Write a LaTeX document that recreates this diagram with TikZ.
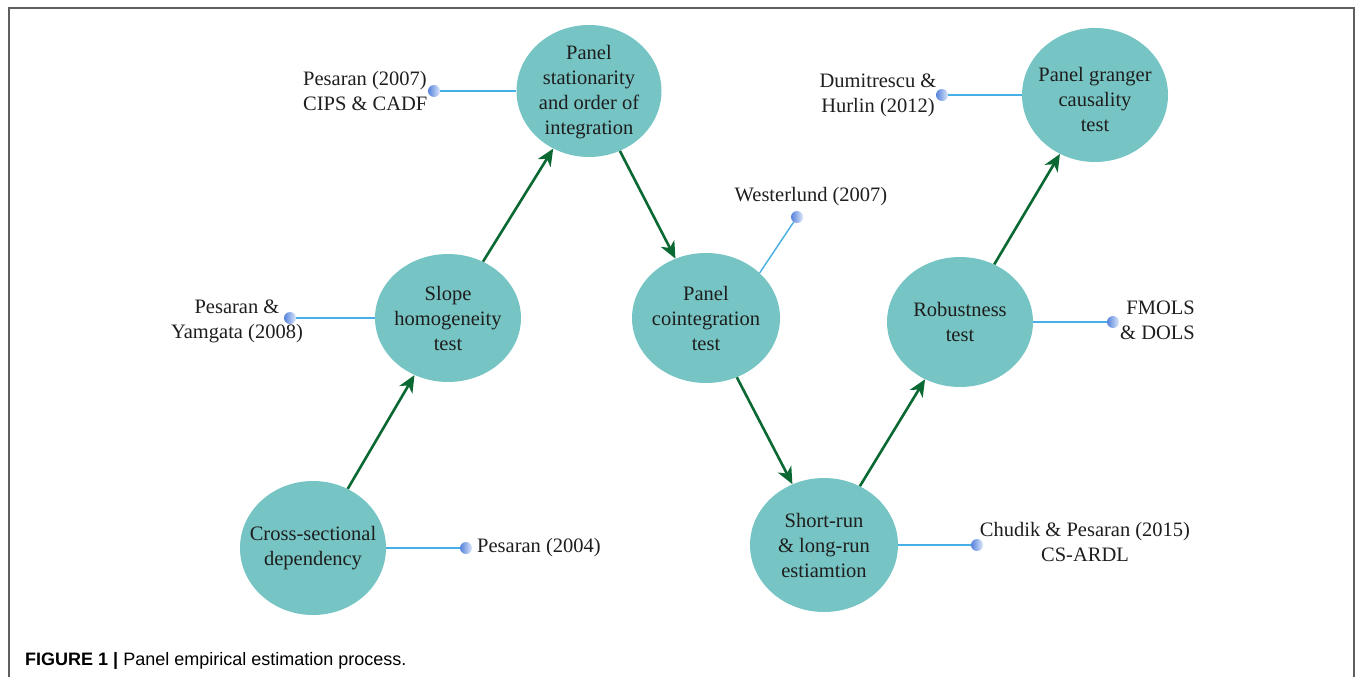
\documentclass[tikz,border=0pt]{standalone}
\usepackage{fontspec}
\setmainfont{Liberation Serif}
\newfontfamily\capfont{Liberation Sans}
\usetikzlibrary{shapes.geometric,arrows.meta}
\definecolor{ellfill}{RGB}{118,197,196}
\definecolor{arrgreen}{RGB}{10,104,50}
\definecolor{linkblue}{RGB}{70,175,230}
\definecolor{dotblue}{RGB}{85,130,220}
\definecolor{dotlight}{RGB}{220,232,250}
\definecolor{txt}{RGB}{30,30,30}
\definecolor{framegray}{RGB}{95,95,95}
\begin{document}
\begin{tikzpicture}[x=1pt,y=-1pt,
 ell/.style={ellipse, fill=ellfill, draw=none, inner sep=0pt},
 etext/.style={inner sep=0pt, align=center, text=txt, font=\fontsize{20.5}{25}\selectfont},
 lbl/.style={inner sep=0pt, text=txt, font=\fontsize{20.5}{25}\selectfont},
 arr/.style={draw=arrgreen, line width=2.6pt, -{Stealth[length=17pt,width=15pt,inset=5pt]}},
 link/.style={draw=linkblue, line width=1.4pt},
 dot/.style={circle, minimum size=12pt, inner sep=0pt, left color=dotblue, right color=dotlight, shading angle=90}]

\useasboundingbox (0,0) rectangle (1357,677);
\draw[framegray, line width=1.5pt] (9,677) -- (9,8) -- (1354,8) -- (1354,677);

% ellipses
\node[ell, minimum width=146pt, minimum height=134pt] (cs) at (313,548) {};
\node[ell, minimum width=146pt, minimum height=128pt] (sh) at (448,318) {};
\node[ell, minimum width=145pt, minimum height=132pt] (ps) at (589,91) {};
\node[ell, minimum width=148pt, minimum height=130pt] (pc) at (706,318) {};
\node[ell, minimum width=148pt, minimum height=134pt] (sr) at (824,545) {};
\node[ell, minimum width=146pt, minimum height=130pt] (rt) at (960,322) {};
\node[ell, minimum width=146pt, minimum height=134pt] (gc) at (1095,95) {};

% ellipse texts
\node[etext] (cs-t) at (cs) {Cross-sectional\\dependency};
\node[etext] (sh-t) at (sh) {Slope\\homogeneity\\test};
\node[etext] (ps-t) at ([yshift=-1pt]ps) {Panel\\stationarity\\and order of\\integration};
\node[etext] (pc-t) at (pc) {Panel\\cointegration\\test};
\node[etext] (sr-t) at (sr) {Short-run\\\& long-run\\estiamtion};
\node[etext] (rt-t) at (rt) {Robustness\\test};
\node[etext] (gc-t) at ([yshift=-4pt]gc) {Panel granger\\causality\\test};

% labels
\node[lbl, anchor=west] (l1) at (477,548) {Pesaran (2004)};
\node[lbl, align=center] (l2) at (237,321) {Pesaran \&\\Yamgata (2008)};
\node[lbl, align=left, anchor=west] (l3) at (303,91) {Pesaran (2007)\\CIPS \& CADF};
\node[lbl] (l4) at (811,197) {Westerlund (2007)};
\node[lbl, align=center] (l5) at (878,95) {Dumitrescu \&\\Hurlin (2012)};
\node[lbl, align=right, anchor=east] (l6) at (1195,320) {FMOLS\\\& DOLS};
\node[lbl, align=center] (l7) at (1085,542) {Chudik \& Pesaran (2015)\\CS-ARDL};

% dots
\node[dot] (d1) at (466,548) {};
\node[dot] (d2) at (290,318) {};
\node[dot] (d3) at (434,91) {};
\node[dot] (d4) at (797,217) {};
\node[dot] (d5) at (942,95) {};
\node[dot] (d6) at (1113,322) {};
\node[dot] (d7) at (977,545) {};

% links
\draw[link] (cs) -- (d1);
\draw[link] (d2) -- (sh);
\draw[link] (d3) -- (ps);
\draw[link] (d4) -- (pc.40);
\draw[link] (d5) -- (gc);
\draw[link] (rt) -- (d6);
\draw[link] (sr) -- (d7);

% arrows
\draw[arr] (cs) -- (sh);
\draw[arr] (sh) -- (ps);
\draw[arr] (ps) -- (pc);
\draw[arr] (pc) -- (sr);
\draw[arr] (sr) -- (rt);
\draw[arr] (rt) -- (gc);

% caption
\node[anchor=west, inner sep=0pt, text=black, font=\capfont\fontsize{18}{20}\selectfont] (cap) at (25,661) {\textbf{FIGURE 1 |} Panel empirical estimation process.};
\end{tikzpicture}
\end{document}
